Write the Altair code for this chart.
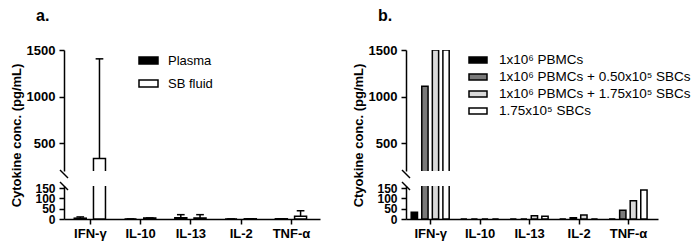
import json
import altair as alt
import pandas as pd

cytokines = ["IFN-γ", "IL-10", "IL-13", "IL-2", "TNF-α"]

# Panel a
groups_a = ["Plasma", "SB fluid"]
plasma_mean = [4, 0, 6, 0, 1]
plasma_upper = [10, 0, 21, 0, 1]
sbfluid_mean = [335, 5, 5, 1, 13]
sbfluid_upper = [1405, 5, 21, 1, 40]
colors_a = ["#000000", "#ffffff"]

# Panel b
groups_b = ["1x10⁶ PBMCs", "1x10⁶ PBMCs + 0.50x10⁵ SBCs",
            "1x10⁶ PBMCs + 1.75x10⁵ SBCs", "1.75x10⁵ SBCs"]
pbmc = [33, 0, 0, 0, 0]
pbmc_sbc050 = [1110, 0, 0, 6, 42]
pbmc_sbc175 = [1500, 0, 16, 20, 88]
sbc_only = [1500, 0, 13, 0, 141]
colors_b = ["#000000", "#7a7a7a", "#d9d9d9", "#ffffff"]

upper_ticks = [500, 1000, 1500]
lower_ticks = [0, 50, 100, 150]
upper_domain = [200, 1500]
lower_domain = [0, 160]

rows_a = []
for gi, (g, m, u) in enumerate([(groups_a[0], plasma_mean, plasma_upper),
                                (groups_a[1], sbfluid_mean, sbfluid_upper)]):
    for ci, (c, mv, uv) in enumerate(zip(cytokines, m, u)):
        rows_a.append({"cytokine": c, "cidx": ci, "group": g, "gidx": gi,
                       "mean": mv, "upper": uv})
df_a = pd.DataFrame(rows_a)

rows_b = []
for gi, (g, m) in enumerate(zip(groups_b, [pbmc, pbmc_sbc050, pbmc_sbc175, sbc_only])):
    for ci, (c, mv) in enumerate(zip(cytokines, m)):
        rows_b.append({"cytokine": c, "cidx": ci, "group": g, "gidx": gi, "mean": mv})
df_b = pd.DataFrame(rows_b)

FONT = "Liberation Sans"
UH = 121
LH = 33
LABEL_EXPR = json.dumps(cytokines, ensure_ascii=False) + "[datum.value]"


def panel(df, groups, colors, width, xdom, bar_step_px, bar_w, cap_w,
          ytitle, leg, err, title_txt):
    ng = len(groups)
    px_per_unit = width / (xdom[1] - xdom[0])
    unit = bar_step_px / px_per_unit
    half_cap = cap_w / 2 / px_per_unit

    def xq(field, show):
        return alt.X(field, type="quantitative",
                     scale=alt.Scale(domain=xdom, nice=False, zero=False),
                     axis=alt.Axis(values=list(range(len(cytokines))), labelExpr=LABEL_EXPR,
                                   title=None, labelAngle=0, labelPadding=3,
                                   labelFlush=False, labelOverlap=False,
                                   labelFontSize=13) if show else None)

    up_axis = alt.Axis(values=upper_ticks, format="d", title=ytitle, titleY=85,
                       titleFontSize=13, titleFont=FONT, titleFontWeight="bold",
                       titlePadding=3, labelPadding=4)
    lo_axis = alt.Axis(values=lower_ticks, format="d", title=None, labelOverlap=False,
                       labelFontSize=12, labelPadding=4)

    def yenc(field, upper):
        return alt.Y(field, type="quantitative",
                     scale=alt.Scale(domain=upper_domain if upper else lower_domain,
                                     nice=False, zero=False),
                     axis=up_axis if upper else lo_axis)

    def build(upper):
        show = not upper
        base = alt.Chart(df).transform_calculate(
            xpos=f"datum.cidx + (datum.gidx - {(ng - 1) / 2}) * {unit}"
        ).transform_calculate(
            xlo=f"datum.xpos - {half_cap}", xhi=f"datum.xpos + {half_cap}"
        )
        color = alt.Color("group:N", sort=groups,
                          scale=alt.Scale(domain=groups, range=colors),
                          legend=alt.Legend(**leg) if upper else None)
        layers = [base.mark_bar(clip=True, stroke="black", strokeWidth=1.5, opacity=1,
                                width=bar_w, orient="vertical").encode(
            x=xq("xpos", show), y=yenc("mean", upper), color=color)]
        if err:
            layers.append(base.mark_rule(clip=True, color="black", strokeWidth=1.5).encode(
                x=xq("xpos", show), y=yenc("mean", upper), y2="upper:Q"))
            layers.append(base.mark_rule(clip=True, color="black", strokeWidth=1.5).encode(
                x=xq("xlo", show), x2="xhi:Q", y=yenc("upper", upper)))
        brk = alt.Chart(alt.Data(values=[{}])).mark_rule(color="black", strokeWidth=1.5)
        if upper:
            layers.append(brk.encode(x=alt.value(-4), x2=alt.value(4),
                                     y=alt.value(UH - 1), y2=alt.value(UH + 7)))
        else:
            layers.append(brk.encode(x=alt.value(-4), x2=alt.value(4),
                                     y=alt.value(-4), y2=alt.value(4)))
        return alt.layer(*layers).properties(width=width, height=UH if upper else LH)

    return alt.vconcat(build(True), build(False), spacing=15, bounds="flush",
                       title=alt.TitleParams(title_txt, anchor="start", fontSize=16,
                                             fontWeight="bold", font=FONT, color="black",
                                             dx=26, offset=20)
                       ).resolve_scale(color="independent").resolve_legend(color="independent")


leg_a = dict(title=None, orient="none", legendX=74, legendY=0,
             symbolType="M-1,-0.37H1V0.37H-1Z", symbolSize=361,
             symbolStrokeColor="black", symbolStrokeWidth=1.5, symbolOpacity=1,
             labelFont=FONT, labelFontSize=13, labelFontWeight="normal",
             labelColor="black", rowPadding=5, labelOffset=9, labelLimit=0)
leg_b = dict(title=None, orient="none", legendX=62, legendY=0,
             symbolType="M-1,-0.33H1V0.33H-1Z", symbolSize=324,
             symbolStrokeColor="black", symbolStrokeWidth=1.5, symbolOpacity=1,
             labelFont=FONT, labelFontSize=13.5, labelFontWeight="normal",
             labelColor="black", rowPadding=0, labelOffset=11, labelLimit=0)

pa = panel(df_a, groups_a, colors_a, 256, [-0.415, 4.478], 20, 12, 8,
           "Cytokine conc. (pg/mL)", leg_a, True, "a.")
pb = panel(df_b, groups_b, colors_b, 252, [-0.388, 4.504], 11, 6.3, 8,
           "Ctyokine conc. (pg/mL)", leg_b, False, "b.")

chart = alt.hconcat(pa, pb, spacing=32).resolve_scale(color="independent").resolve_legend(
    color="independent").properties(
    padding={"left": 10, "top": 8, "right": 5, "bottom": 5},
    background="white"
).configure_view(stroke=None).configure_axis(
    domainColor="black", tickColor="black", domainWidth=1.5, tickWidth=1.5, tickSize=5,
    labelColor="black", labelFont=FONT, labelFontWeight="bold", labelFontSize=13,
    titleColor="black", grid=False
)

chart.save("out.html", embed_options={"renderer": "svg", "actions": False})
